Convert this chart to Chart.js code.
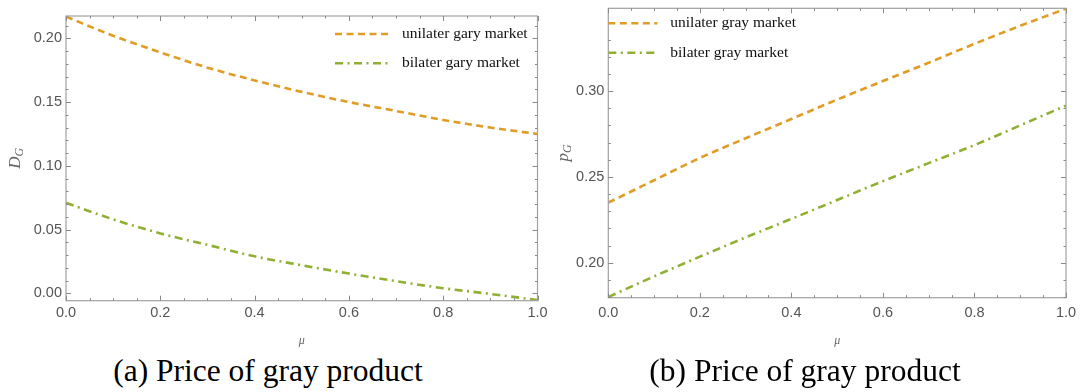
<!DOCTYPE html>
<html>
<head>
<meta charset="utf-8">
<script src="https://cdn.jsdelivr.net/npm/chart.js@4/dist/chart.umd.min.js"></script>
<style>
  html, body { margin: 0; padding: 0; background: #fff; }
  body { width: 1080px; height: 392px; position: relative; overflow: hidden; }
  .panel { position: absolute; top: 0; height: 350px; }
  .caption {
    position: absolute; top: 355px; line-height: 32px;
    font-family: "Liberation Serif", "Times New Roman", serif;
    font-size: 31.5px; color: #000; white-space: nowrap;
    transform: translateX(-50%);
  }
</style>
</head>
<body>
<div class="panel" style="left:0;width:560px"><canvas id="chartA" width="560" height="350"></canvas></div>
<div class="panel" style="left:540px;width:540px"><canvas id="chartB" width="540" height="350"></canvas></div>
<div class="caption" style="left:268px">(a) Price of gray product</div>
<div class="caption" style="left:805px">(b) Price of gray product</div>

<script>
// ---- data ----
const mu = [0, 0.1, 0.2, 0.3, 0.4, 0.5, 0.6, 0.7, 0.8, 0.9, 1.0];

// demand for the gray product, D_G
const demandUnilateral = [0.217, 0.202, 0.189, 0.177, 0.167, 0.158, 0.150, 0.143, 0.136, 0.130, 0.125];
const demandBilateral  = [0.071, 0.058, 0.047, 0.038, 0.029, 0.022, 0.0155, 0.0095, 0.004, -0.0005, -0.0053];

// price of the gray product, p_G
const priceUnilateral = [0.235, 0.248, 0.261, 0.2725, 0.2837, 0.295, 0.3058, 0.3165, 0.3275, 0.338, 0.348];
const priceBilateral  = [0.180, 0.192, 0.2035, 0.2147, 0.2255, 0.2365, 0.2475, 0.258, 0.2685, 0.280, 0.2915];

// tick values and labels
const xTickValues = [0, 0.2, 0.4, 0.6, 0.8, 1.0];
const xTickLabels = ['0.0', '0.2', '0.4', '0.6', '0.8', '1.0'];
const yTickValuesA = [0, 0.05, 0.10, 0.15, 0.20];
const yTickLabelsA = ['0.00', '0.05', '0.10', '0.15', '0.20'];
const yTickValuesB = [0.20, 0.25, 0.30];
const yTickLabelsB = ['0.20', '0.25', '0.30'];

const legendLabelsA = ['unilater gary market', 'bilater gary market'];
const legendLabelsB = ['unilater gray market', 'bilater gray market'];

// ---- styling ----
const ORANGE = '#E09C24';
const GREEN = '#8FB032';
const DASHED = [7, 4.5];
const DOT_DASHED = [8, 4.5, 2, 4.5];

function steps(from, to, step) {
  const out = [];
  const n = Math.round((to - from) / step);
  for (let i = 0; i <= n; i++) out.push(+(from + i * step).toFixed(6));
  return out;
}

// Mathematica-style frame with inward ticks on all four sides, an in-plot legend
// and a rotated axis label with a subscript.
const framePlugin = {
  id: 'frame',
  afterDatasetsDraw(chart, args, o) {
    const { ctx, chartArea: a, scales: { x, y } } = chart;
    ctx.save();
    // frame
    ctx.strokeStyle = '#a0a0a0';
    ctx.lineWidth = 1.2;
    ctx.strokeRect(a.left, a.top, a.right - a.left, a.bottom - a.top);

    // ticks
    ctx.strokeStyle = '#8a8a8a';
    ctx.lineWidth = 1;
    ctx.beginPath();
    const isMajor = (v, majors) => majors.some(m => Math.abs(m - v) < 1e-6);
    o.xMinor.forEach(v => {
      const px = Math.round(x.getPixelForValue(v)) + 0.5;
      const len = isMajor(v, o.xMajor) ? 5 : 2.5;
      ctx.moveTo(px, a.bottom); ctx.lineTo(px, a.bottom - len);
      ctx.moveTo(px, a.top); ctx.lineTo(px, a.top + len);
    });
    o.yMinor.forEach(v => {
      const py = Math.round(y.getPixelForValue(v)) + 0.5;
      if (py < a.top - 0.5 || py > a.bottom + 0.5) return;
      const len = isMajor(v, o.yMajor) ? 5 : 2.5;
      ctx.moveTo(a.left, py); ctx.lineTo(a.left + len, py);
      ctx.moveTo(a.right, py); ctx.lineTo(a.right - len, py);
    });
    ctx.stroke();

    // legend inside the plot
    chart.data.datasets.forEach((ds, i) => {
      const ly = o.legend.y + i * o.legend.gap;
      ctx.save();
      ctx.strokeStyle = ds.borderColor;
      ctx.lineWidth = ds.borderWidth;
      ctx.setLineDash(ds.borderDash || []);
      ctx.beginPath();
      ctx.moveTo(o.legend.x, ly);
      ctx.lineTo(o.legend.x + o.legend.len, ly);
      ctx.stroke();
      ctx.restore();
      ctx.fillStyle = '#111';
      ctx.font = '15.5px "Liberation Serif", "Times New Roman", serif';
      ctx.textBaseline = 'middle';
      ctx.textAlign = 'left';
      ctx.fillText(ds.label, o.legend.x + o.legend.len + o.legend.textGap, ly);
    });

    // rotated y-axis label with subscript
    ctx.save();
    ctx.translate(o.yTitle.x, (a.top + a.bottom) / 2);
    ctx.rotate(-Math.PI / 2);
    ctx.fillStyle = '#666';
    ctx.textBaseline = 'alphabetic';
    ctx.font = 'italic 17px "Liberation Serif", serif';
    const mainW = ctx.measureText(o.yTitle.main).width;
    ctx.font = 'italic 12px "Liberation Serif", serif';
    const subW = ctx.measureText(o.yTitle.sub).width;
    const startX = -(mainW + subW) / 2;
    ctx.font = 'italic 17px "Liberation Serif", serif';
    ctx.fillText(o.yTitle.main, startX, 5);
    ctx.font = 'italic 12px "Liberation Serif", serif';
    ctx.fillText(o.yTitle.sub, startX + mainW, 8);
    ctx.restore();

    ctx.restore();
  }
};

function makeChart(id, cfg) {
  const tickFont = { family: '"Liberation Sans", Arial, sans-serif', size: 14.5 };
  return new Chart(document.getElementById(id), {
    type: 'line',
    data: {
      datasets: [
        {
          label: cfg.labels[0],
          data: mu.map((m, i) => ({ x: m, y: cfg.series[0][i] })),
          borderColor: ORANGE, borderWidth: 2.6, borderDash: DASHED,
          borderCapStyle: 'butt', pointRadius: 0, cubicInterpolationMode: 'monotone', fill: false
        },
        {
          label: cfg.labels[1],
          data: mu.map((m, i) => ({ x: m, y: cfg.series[1][i] })),
          borderColor: GREEN, borderWidth: 2.6, borderDash: DOT_DASHED,
          borderCapStyle: 'butt', pointRadius: 0, cubicInterpolationMode: 'monotone', fill: false
        }
      ]
    },
    options: {
      responsive: false,
      animation: false,
      devicePixelRatio: 1,
      layout: { padding: { left: 0, top: cfg.top, right: cfg.right, bottom: 0 } },
      plugins: {
        legend: { display: false },
        tooltip: { enabled: false },
        frame: {
          xMajor: xTickValues, xMinor: steps(0, 1, 0.05),
          yMajor: cfg.yTicks, yMinor: cfg.yMinor,
          legend: cfg.legend,
          yTitle: cfg.yTitle
        }
      },
      scales: {
        x: {
          type: 'linear', min: 0, max: 1,
          grid: { display: false, drawTicks: false }, border: { display: false },
          afterBuildTicks: s => { s.ticks = xTickValues.map(v => ({ value: v })); },
          afterFit: s => {
            s.height = 350 - cfg.bottom;
            s.paddingLeft = 0; s.paddingRight = 0;
          },
          ticks: {
            font: tickFont, color: '#555', padding: cfg.xPad, maxRotation: 0, autoSkip: false,
            callback: (v, i) => xTickLabels[i]
          },
          title: {
            display: true, text: 'μ', color: '#666',
            font: { family: '"Liberation Serif", serif', style: 'italic', size: 12 },
            padding: { top: 0, bottom: 2 }
          }
        },
        y: {
          type: 'linear', min: cfg.yMin, max: cfg.yMax,
          grid: { display: false, drawTicks: false }, border: { display: false },
          afterBuildTicks: s => { s.ticks = cfg.yTicks.map(v => ({ value: v })); },
          afterFit: s => {
            s.width = cfg.left;
            s.paddingTop = 0; s.paddingBottom = 0;
          },
          ticks: {
            font: tickFont, color: '#555', padding: 4, autoSkip: false,
            callback: (v, i) => cfg.yLabels[i]
          }
        }
      }
    },
    plugins: [framePlugin]
  });
}

makeChart('chartA', {
  series: [demandUnilateral, demandBilateral],
  labels: legendLabelsA,
  yMin: -0.0058, yMax: 0.2175,
  yTicks: yTickValuesA, yLabels: yTickLabelsA, yMinor: steps(0, 0.21, 0.01),
  left: 66, top: 16, right: 22.5, bottom: 300.7, xPad: 3.6,
  legend: { x: 335, y: 34, gap: 29.3, len: 55, textGap: 12 },
  yTitle: { x: 15, main: 'D', sub: 'G' }
});

makeChart('chartB', {
  series: [priceUnilateral, priceBilateral],
  labels: legendLabelsB,
  yMin: 0.1796, yMax: 0.3482,
  yTicks: yTickValuesB, yLabels: yTickLabelsB, yMinor: steps(0.18, 0.34, 0.01),
  left: 68.3, top: 8.3, right: 14, bottom: 297.7, xPad: 6.6,
  legend: { x: 68.3, y: 23.3, gap: 29.4, len: 49, textGap: 13 },
  yTitle: { x: 23, main: 'p', sub: 'G' }
});
</script>
</body>
</html>
